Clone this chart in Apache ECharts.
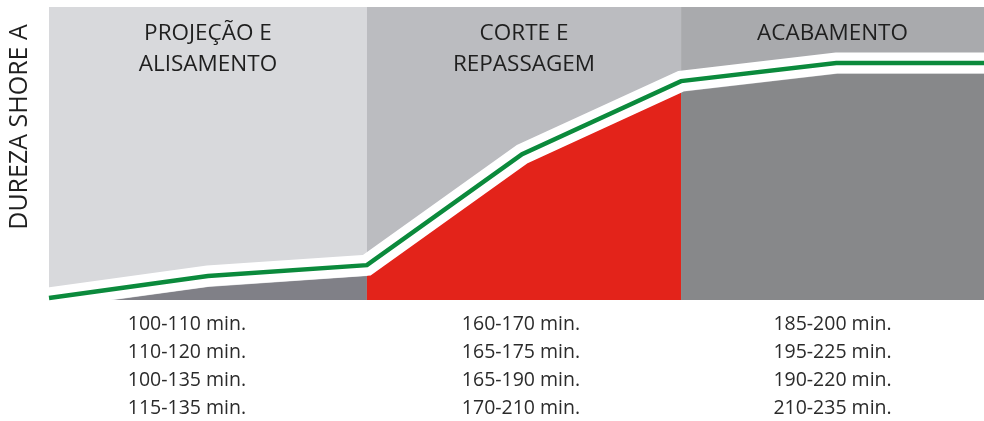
<!DOCTYPE html>
<html>
<head>
<meta charset="utf-8">
<style>
  html, body { margin: 0; padding: 0; background: #ffffff; }
  #chart { width: 984px; height: 421px; }
</style>
<script src="https://cdn.jsdelivr.net/npm/echarts@6/dist/echarts.min.js"></script>
</head>
<body>
<div id="chart"></div>
<script>
// Process stages and their extent along the progression axis
const stageNames = ['PROJEÇÃO E\nALISAMENTO', 'CORTE E\nREPASSAGEM', 'ACABAMENTO'];
const stageBounds = [0, 34, 67.6, 100];
const stageTimes = [
  ['100-110 min.', '110-120 min.', '100-135 min.', '115-135 min.'],
  ['160-170 min.', '165-175 min.', '165-190 min.', '170-210 min.'],
  ['185-200 min.', '195-225 min.', '190-220 min.', '210-235 min.']
];

// Hardness curve (Shore A, relative scale 0-100)
const curveX = [0, 17, 34, 50.6, 67.6, 84.2, 100];
const hardness = [0.7, 8.2, 11.9, 49.8, 74.7, 80.9, 80.9];

const stageBg = ['#d8d9dc', '#bbbcc0', '#a9aaad'];
const stageFill = ['#808087', '#e3231a', '#87888a'];
const timeOffsets = [[-21, 0], [-3, 0], [0, 0]];
const FONT = '"Open Sans", "Noto Sans", sans-serif';

// The coloured fills sit a fixed step below the curve: a second value axis
// with the same span, shifted by that step, carries the fill series.
const Y_MAX = 100;
const FILL_SHIFT = 3.75;

const points = curveX.map((x, i) => [x, hardness[i]]);

// Each stage fill covers the curve points that fall inside that stage
function stagePoints(s) {
  return points.filter(p => p[0] >= stageBounds[s] - 1e-9 && p[0] <= stageBounds[s + 1] + 1e-9);
}

const fillSeries = stageNames.map((name, s) => ({
  type: 'line',
  name: 'fill' + s,
  yAxisIndex: 1,
  data: stagePoints(s),
  symbol: 'none',
  silent: true,
  z: 2,
  lineStyle: { width: 0 },
  areaStyle: { color: stageFill[s], opacity: 1, origin: 'start' }
}));

// Stage backgrounds with their titles
fillSeries[0].markArea = {
  silent: true,
  data: stageNames.map((name, s) => [
    {
      xAxis: stageBounds[s],
      name: name,
      itemStyle: { color: stageBg[s], opacity: 1 },
      label: {
        show: true,
        position: 'insideTop',
        distance: 11,
        color: '#1f1f1f',
        fontFamily: FONT,
        fontSize: 22.5,
        lineHeight: 31,
        align: 'center'
      }
    },
    { xAxis: stageBounds[s + 1] }
  ])
};

// Duration ranges printed under each stage
const timesSeries = {
  type: 'line',
  name: 'times',
  data: [],
  silent: true,
  markArea: {
    silent: true,
    data: stageTimes.map((lines, s) => [
      {
        xAxis: stageBounds[s],
        name: lines.join('\n'),
        itemStyle: { color: 'rgba(0,0,0,0)' },
        label: {
          show: true,
          position: 'bottom',
          distance: 11,
          offset: timeOffsets[s],
          color: '#2b2b2b',
          fontFamily: FONT,
          fontSize: 19.5,
          lineHeight: 27.7,
          align: 'center'
        }
      },
      { xAxis: stageBounds[s + 1] }
    ])
  }
};

const option = {
  animation: false,
  backgroundColor: '#ffffff',
  grid: { left: 49, right: 0, top: 7, bottom: 121 },
  xAxis: {
    type: 'value',
    min: 0,
    max: 100,
    show: false
  },
  yAxis: [
    { type: 'value', min: 0, max: Y_MAX, show: false },
    { type: 'value', min: FILL_SHIFT, max: Y_MAX + FILL_SHIFT, show: false }
  ],
  graphic: [{
    type: 'text',
    x: 20,
    y: 127,
    rotation: Math.PI / 2,
    style: {
      text: 'DUREZA SHORE A',
      fill: '#1f1f1f',
      font: '25px ' + FONT,
      textAlign: 'center',
      textVerticalAlign: 'middle'
    }
  }],
  series: [
    ...fillSeries,
    timesSeries,
    {
      type: 'line',
      name: 'halo',
      data: points,
      symbol: 'none',
      silent: true,
      z: 3,
      lineStyle: { color: '#ffffff', width: 21, join: 'miter', cap: 'butt' }
    },
    {
      type: 'line',
      name: 'Dureza',
      data: points,
      symbol: 'none',
      silent: true,
      z: 4,
      lineStyle: { color: '#0b8a3c', width: 4.5, join: 'miter', cap: 'butt' }
    }
  ]
};

echarts.init(document.getElementById('chart'), null, { renderer: 'canvas' }).setOption(option);
</script>
</body>
</html>
